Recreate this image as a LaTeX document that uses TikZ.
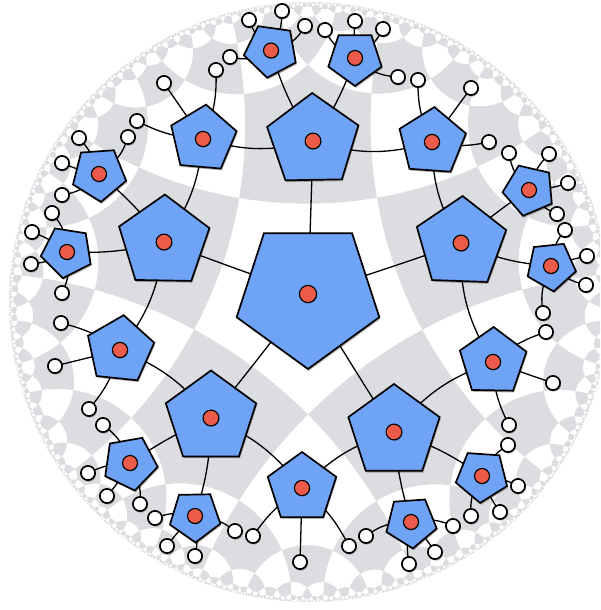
\documentclass[tikz,border=0pt]{standalone}
\usetikzlibrary{shadows}
\definecolor{bgray}{RGB}{220,221,224}
\definecolor{pblue}{RGB}{111,163,246}
\definecolor{pred}{RGB}{236,90,74}
\tikzset{
  conn/.style={draw=black, line width=1.3pt},
  pent/.style={draw=black, line width=1.7pt, fill=pblue,
     drop shadow={opacity=0.3, shadow xshift=1pt, shadow yshift=-1.8pt, fill=black}},
  reddot/.style={draw=black, line width=1.1pt, fill=pred,
     drop shadow={opacity=0.25, shadow xshift=0.6pt, shadow yshift=-1pt, fill=black}},
  leaf/.style={draw=black, line width=1.7pt, fill=white,
     drop shadow={opacity=0.3, shadow xshift=0.8pt, shadow yshift=-1.5pt, fill=black}},
}
\newcommand\hdrawconn[3]{\draw[conn] (#1) to[bend left={#3}] (#2);}
\newcommand\hdrawleaf[1]{\filldraw[leaf] (#1) circle (7.1pt);}

\ExplSyntaxOn
\fp_new:N \l__h_dx_fp
\fp_new:N \l__h_dy_fp
\fp_new:N \l__h_k_fp
\fp_new:N \l__h_px_fp
\fp_new:N \l__h_py_fp
\fp_new:N \l__h_qx_fp
\fp_new:N \l__h_qy_fp
\fp_new:N \l__h_det_fp
\fp_new:N \l__h_a_fp
\fp_new:N \l__h_b_fp
\fp_new:N \l__h_ox_fp
\fp_new:N \l__h_oy_fp
\fp_new:N \l__h_rho_fp
\fp_new:N \l__h_c_fp
\fp_new:N \l__h_bend_fp
\tl_new:N \l__h_rx_tl
\tl_new:N \l__h_ry_tl
\tl_new:N \l__h_ax_tl
\tl_new:N \l__h_ay_tl
\tl_new:N \l__h_key_tl
\seq_new:N \g__h_leaves_seq
\tl_new:N \g__h_path_tl

\fp_const:Nn \c__h_delta_fp { acosd ( sqrt ( cosd ( 72 ) ) ) }
\fp_const:Nn \c__h_epssq_fp { 0.007 ^ 2 }
\fp_const:Nn \c__h_ax_fp { -0.003 }
\fp_const:Nn \c__h_ay_fp { 0.027 }

\int_step_inline:nnn { 1 } { 5 }
  {
    \fp_const:cn { c__h_cx_#1_fp } { cosd ( 162 - 72 * #1 ) / cosd ( \c__h_delta_fp ) }
    \fp_const:cn { c__h_cy_#1_fp } { sind ( 162 - 72 * #1 ) / cosd ( \c__h_delta_fp ) }
    \fp_const:cn { c__h_rr_#1_fp } { ( tand ( \c__h_delta_fp ) ) ^ 2 }
  }

\cs_new_protected:Npn \__h_reflpt:nnn #1#2#3
  {
    \fp_set:Nn \l__h_dx_fp { ( #1 ) - \use:c { c__h_cx_#3_fp } }
    \fp_set:Nn \l__h_dy_fp { ( #2 ) - \use:c { c__h_cy_#3_fp } }
    \fp_set:Nn \l__h_k_fp { \use:c { c__h_rr_#3_fp } / ( \l__h_dx_fp ^ 2 + \l__h_dy_fp ^ 2 ) }
    \tl_set:Nx \l__h_rx_tl { \fp_eval:n { \use:c { c__h_cx_#3_fp } + \l__h_k_fp * \l__h_dx_fp } }
    \tl_set:Nx \l__h_ry_tl { \fp_eval:n { \use:c { c__h_cy_#3_fp } + \l__h_k_fp * \l__h_dy_fp } }
  }

\cs_new_protected:Npn \__h_mob:nn #1#2
  {
    \fp_set:Nn \l__h_dx_fp { 1 + \c__h_ax_fp * ( #1 ) + \c__h_ay_fp * ( #2 ) }
    \fp_set:Nn \l__h_dy_fp { \c__h_ax_fp * ( #2 ) - \c__h_ay_fp * ( #1 ) }
    \fp_set:Nn \l__h_k_fp { \l__h_dx_fp ^ 2 + \l__h_dy_fp ^ 2 }
    \tl_set:Nx \l__h_rx_tl { \fp_eval:n { ( ( ( #1 ) + \c__h_ax_fp ) * \l__h_dx_fp + ( ( #2 ) + \c__h_ay_fp ) * \l__h_dy_fp ) / \l__h_k_fp } }
    \tl_set:Nx \l__h_ry_tl { \fp_eval:n { ( ( ( #2 ) + \c__h_ay_fp ) * \l__h_dx_fp - ( ( #1 ) + \c__h_ax_fp ) * \l__h_dy_fp ) / \l__h_k_fp } }
  }

\cs_new_protected:Npn \__h_emit:nnnn #1#2#3#4
  {
    \__h_mob:nn {#1} {#2}
    \tl_set_eq:NN \l__h_ax_tl \l__h_rx_tl
    \tl_set_eq:NN \l__h_ay_tl \l__h_ry_tl
    \__h_mob:nn {#3} {#4}
    \fp_set:Nn \l__h_k_fp { 1 + ( \l__h_ax_tl ) * ( \l__h_rx_tl ) + ( \l__h_ay_tl ) * ( \l__h_ry_tl ) }
    \fp_set:Nn \l__h_dx_fp { ( ( \l__h_ax_tl ) + ( \l__h_rx_tl ) ) / \l__h_k_fp }
    \fp_set:Nn \l__h_dy_fp { ( ( \l__h_ay_tl ) + ( \l__h_ry_tl ) ) / \l__h_k_fp }
    \tl_gput_right:Nx \g__h_path_tl
      {
        ( \fp_eval:n { round ( \l__h_dx_fp , 5 ) } , \fp_eval:n { round ( \l__h_dy_fp , 5 ) } )
        ~ circle ~ ( \fp_eval:n { round ( sqrt ( \l__h_dx_fp ^ 2 + \l__h_dy_fp ^ 2 - 1 ) , 5 ) } ) ~
      }
  }

\cs_new_protected:Npn \__h_add:nnnn #1#2#3#4
  {
    \fp_compare:nNnT { ( ( #1 ) - ( #3 ) ) ^ 2 + ( ( #2 ) - ( #4 ) ) ^ 2 } > { \c__h_epssq_fp }
      {
        \tl_set:Nx \l__h_key_tl
          { \fp_eval:n { round ( ( #1 ) + ( #3 ) + 0.0000123 , 4 ) } / \fp_eval:n { round ( ( #2 ) + ( #4 ) + 0.0000123 , 4 ) } }
        \cs_if_exist:cF { h@ \l__h_key_tl }
          {
            \cs_gset:cpn { h@ \l__h_key_tl } { }
            \__h_emit:nnnn {#1} {#2} {#3} {#4}
            \__h_process_line:nnnn {#1} {#2} {#3} {#4}
          }
      }
  }
\cs_generate_variant:Nn \__h_add:nnnn { VVVV }

\cs_new_protected:Npn \__h_process_line:nnnn #1#2#3#4
  {
    \int_step_inline:nnn { 1 } { 5 }
      {
        \bool_if:nT
          {
            \fp_compare_p:nNn { ( ( #1 ) - \use:c { c__h_cx_##1_fp } ) ^ 2 + ( ( #2 ) - \use:c { c__h_cy_##1_fp } ) ^ 2 } > { \use:c { c__h_rr_##1_fp } }
            &&
            \fp_compare_p:nNn { ( ( #3 ) - \use:c { c__h_cx_##1_fp } ) ^ 2 + ( ( #4 ) - \use:c { c__h_cy_##1_fp } ) ^ 2 } > { \use:c { c__h_rr_##1_fp } }
          }
          {
            \__h_reflpt:nnn {#1} {#2} {##1}
            \tl_set_eq:NN \l__h_ax_tl \l__h_rx_tl
            \tl_set_eq:NN \l__h_ay_tl \l__h_ry_tl
            \__h_reflpt:nnn {#3} {#4} {##1}
            \__h_add:VVVV \l__h_ax_tl \l__h_ay_tl \l__h_rx_tl \l__h_ry_tl
          }
      }
  }

\int_step_inline:nnn { 1 } { 5 }
  {
    \tl_set:Nx \l__h_ax_tl { \fp_eval:n { cosd ( 162 - 72 * #1 - \c__h_delta_fp ) } }
    \tl_set:Nx \l__h_ay_tl { \fp_eval:n { sind ( 162 - 72 * #1 - \c__h_delta_fp ) } }
    \tl_set:Nx \l__h_rx_tl { \fp_eval:n { cosd ( 162 - 72 * #1 + \c__h_delta_fp ) } }
    \tl_set:Nx \l__h_ry_tl { \fp_eval:n { sind ( 162 - 72 * #1 + \c__h_delta_fp ) } }
    \__h_add:VVVV \l__h_ax_tl \l__h_ay_tl \l__h_rx_tl \l__h_ry_tl
  }
\tl_gset_eq:NN \hbgpath \g__h_path_tl

\cs_new_protected:Npn \h_setnode:nnn #1#2#3
  {
    \tl_gset:cn { g__h_x_#1_tl } {#2}
    \tl_gset:cn { g__h_y_#1_tl } {#3}
  }
\cs_new_protected:Npn \h_conn:nn #1#2
  {
    \fp_set:Nn \l__h_px_fp { ( \tl_use:c { g__h_x_#1_tl } - 309 ) / 300 }
    \fp_set:Nn \l__h_py_fp { ( 302 - \tl_use:c { g__h_y_#1_tl } ) / 300 }
    \fp_set:Nn \l__h_qx_fp { ( \tl_use:c { g__h_x_#2_tl } - 309 ) / 300 }
    \fp_set:Nn \l__h_qy_fp { ( 302 - \tl_use:c { g__h_y_#2_tl } ) / 300 }
    \fp_set:Nn \l__h_det_fp { \l__h_px_fp * \l__h_qy_fp - \l__h_py_fp * \l__h_qx_fp }
    \fp_compare:nNnTF { abs ( \l__h_det_fp ) } < { 0.00001 }
      { \fp_set:Nn \l__h_bend_fp { 0 } }
      {
        \fp_set:Nn \l__h_a_fp { ( \l__h_px_fp ^ 2 + \l__h_py_fp ^ 2 + 1 ) / 2 }
        \fp_set:Nn \l__h_b_fp { ( \l__h_qx_fp ^ 2 + \l__h_qy_fp ^ 2 + 1 ) / 2 }
        \fp_set:Nn \l__h_ox_fp { ( \l__h_a_fp * \l__h_qy_fp - \l__h_b_fp * \l__h_py_fp ) / \l__h_det_fp }
        \fp_set:Nn \l__h_oy_fp { ( \l__h_b_fp * \l__h_px_fp - \l__h_a_fp * \l__h_qx_fp ) / \l__h_det_fp }
        \fp_set:Nn \l__h_rho_fp { sqrt ( \l__h_ox_fp ^ 2 + \l__h_oy_fp ^ 2 - 1 ) }
        \fp_set:Nn \l__h_c_fp { sqrt ( ( \l__h_qx_fp - \l__h_px_fp ) ^ 2 + ( \l__h_qy_fp - \l__h_py_fp ) ^ 2 ) }
        \fp_set:Nn \l__h_bend_fp { asind ( min ( 1 , \l__h_c_fp / ( 2 * \l__h_rho_fp ) ) ) }
        \fp_compare:nNnT
          { ( \l__h_qx_fp - \l__h_px_fp ) * ( \l__h_oy_fp - \l__h_py_fp ) - ( \l__h_qy_fp - \l__h_py_fp ) * ( \l__h_ox_fp - \l__h_px_fp ) } > { 0 }
          { \fp_set:Nn \l__h_bend_fp { 0 - \l__h_bend_fp } }
      }
    \use:x { \exp_not:N \hdrawconn {#1} {#2} { \fp_eval:n { round ( \l__h_bend_fp , 2 ) } } }
  }
\cs_new_eq:NN \hsetnode \h_setnode:nnn
\cs_new_eq:NN \hconn \h_conn:nn
\cs_new_protected:Npn \hleafreg #1 { \seq_gput_right:Nn \g__h_leaves_seq {#1} }
\cs_new_protected:Npn \hdrawleaves { \seq_map_inline:Nn \g__h_leaves_seq { \hdrawleaf {##1} } }
\ExplSyntaxOff

\edef\hbgdraw{\noexpand\fill[bgray,even odd rule] \hbgpath;}
\newcommand\hnode[3]{\hsetnode{#1}{#2}{#3}\coordinate (#1) at (#2,#3);}
\newcommand\hleaf[4]{\hnode{#2}{#3}{#4}\hconn{#1}{#2}\hleafreg{#2}}
\newcommand\hpent[4]{%
  \filldraw[pent] ([shift={(#3:#2pt)}]#1) -- ([shift={(#3+72:#2pt)}]#1)
    -- ([shift={(#3+144:#2pt)}]#1) -- ([shift={(#3+216:#2pt)}]#1)
    -- ([shift={(#3+288:#2pt)}]#1) -- cycle;
  \filldraw[reddot] (#1) circle (#4pt);}

\begin{document}
\begin{tikzpicture}[x=1pt,y=-1pt]
\useasboundingbox (0,0) rectangle (600,610);
\clip (0,0) rectangle (600,610);
\fill[white] (0,0) rectangle (600,610);
\begin{scope}[shift={(309,302)},x=300pt,y=300pt]
  \clip (0,0) circle (1);
  \fill[white] (0,0) circle (1);
  \hbgdraw
\end{scope}
% pentagon centres
\hnode{C}{308}{294}
\hnode{T}{313}{141}
\hnode{L}{164}{242}
\hnode{Rt}{461}{243}
\hnode{BL}{211}{418}
\hnode{BR}{394}{432}
\hnode{Ma}{203}{139}
\hnode{Mb}{432}{142}
\hnode{Mc}{120}{350}
\hnode{Md}{493}{362}
\hnode{Me}{302}{488}
\hnode{Sa}{271}{50.5}
\hnode{Sb}{355}{58}
\hnode{Sc}{99}{174}
\hnode{Sd}{67}{252}
\hnode{Se}{529}{190}
\hnode{Sf}{551}{266}
\hnode{Sg}{130}{463}
\hnode{Sh}{195}{516}
\hnode{Si}{411}{522}
\hnode{Sj}{482}{476}
% connectors between pentagons
\hconn{C}{T}\hconn{C}{L}\hconn{C}{Rt}\hconn{C}{BL}\hconn{C}{BR}
\hconn{T}{Ma}\hconn{T}{Mb}\hconn{T}{Sa}\hconn{T}{Sb}
\hconn{L}{Ma}\hconn{L}{Mc}\hconn{L}{Sc}\hconn{L}{Sd}
\hconn{Rt}{Mb}\hconn{Rt}{Md}\hconn{Rt}{Se}\hconn{Rt}{Sf}
\hconn{BL}{Mc}\hconn{BL}{Me}\hconn{BL}{Sg}\hconn{BL}{Sh}
\hconn{BR}{Md}\hconn{BR}{Me}\hconn{BR}{Si}\hconn{BR}{Sj}
% leaves
\hleaf{Sa}{x1}{282}{11}\hleaf{Sa}{x2}{249}{20}\hleaf{Sa}{x3}{230}{57}\hleaf{Sa}{x4}{305}{26}
\hleaf{Sb}{x5}{325}{30}\hleaf{Sb}{x6}{355}{21}\hleaf{Sb}{x7}{383}{29}\hleaf{Sb}{x8}{398}{77}
\hleaf{Mb}{x9}{418}{80}\hleaf{Mb}{x10}{471}{88}\hleaf{Mb}{x11}{489}{142}
\hleaf{Ma}{x12}{216}{70}\hleaf{Ma}{x13}{164}{83}\hleaf{Ma}{x14}{137}{121}
\hleaf{Sc}{x15}{128}{137}\hleaf{Sc}{x16}{79}{138}\hleaf{Sc}{x17}{62}{163}\hleaf{Sc}{x18}{62}{195}
\hleaf{Sd}{x19}{52}{213}\hleaf{Sd}{x20}{32}{232}\hleaf{Sd}{x21}{31}{264}\hleaf{Sd}{x22}{62}{293}
\hleaf{Mc}{x23}{61}{323}\hleaf{Mc}{x24}{55}{366}\hleaf{Mc}{x25}{89}{409}
\hleaf{Sg}{x26}{103}{425}\hleaf{Sg}{x27}{88}{473}\hleaf{Sg}{x28}{107}{496}\hleaf{Sg}{x29}{140}{504}
\hleaf{Sh}{x30}{155}{518}\hleaf{Sh}{x31}{167}{546}\hleaf{Sh}{x32}{195}{556}\hleaf{Sh}{x33}{235}{531}
\hleaf{Me}{x34}{253}{536}\hleaf{Me}{x35}{300}{562}\hleaf{Me}{x36}{349}{546}
\hleaf{Si}{x37}{366}{536}\hleaf{Si}{x38}{409}{564}\hleaf{Si}{x39}{435}{552}\hleaf{Si}{x40}{453}{526}
\hleaf{Sj}{x41}{471}{516}\hleaf{Sj}{x42}{500}{512}\hleaf{Sj}{x43}{518}{486}\hleaf{Sj}{x44}{508}{445}
\hleaf{Md}{x45}{546}{332}\hleaf{Md}{x46}{553}{383}\hleaf{Md}{x47}{509}{425}
\hleaf{Sf}{x48}{565}{230}\hleaf{Sf}{x49}{587}{256}\hleaf{Sf}{x50}{586}{285}\hleaf{Sf}{x51}{543}{313}
\hleaf{Se}{x52}{509}{153}\hleaf{Se}{x53}{549}{154}\hleaf{Se}{x54}{568}{183}\hleaf{Se}{x55}{557}{214}
% pentagons
\hpent{C}{75}{-90}{8.6}
\hpent{T}{48}{91}{7.9}
\hpent{L}{47.5}{89}{7.9}
\hpent{Rt}{47}{88}{7.9}
\hpent{BL}{47.5}{90}{7.9}
\hpent{BR}{48}{90}{7.9}
\hpent{Ma}{34.5}{85}{7.6}
\hpent{Mb}{35}{86}{7.6}
\hpent{Mc}{35}{84}{7.6}
\hpent{Md}{35}{89}{7.6}
\hpent{Me}{36}{90}{7.6}
\hpent{Sa}{27.5}{-98}{7.5}
\hpent{Sb}{28}{-90}{7.5}
\hpent{Sc}{28}{-86}{7.5}
\hpent{Sd}{26.5}{-99}{7.5}
\hpent{Se}{26.5}{-103}{7.5}
\hpent{Sf}{25.5}{-84}{7.5}
\hpent{Sg}{28}{-80}{7.5}
\hpent{Sh}{26.5}{-89}{7.5}
\hpent{Si}{26.5}{-86}{7.5}
\hpent{Sj}{27}{-94}{7.5}
\hdrawleaves
\end{tikzpicture}
\end{document}
